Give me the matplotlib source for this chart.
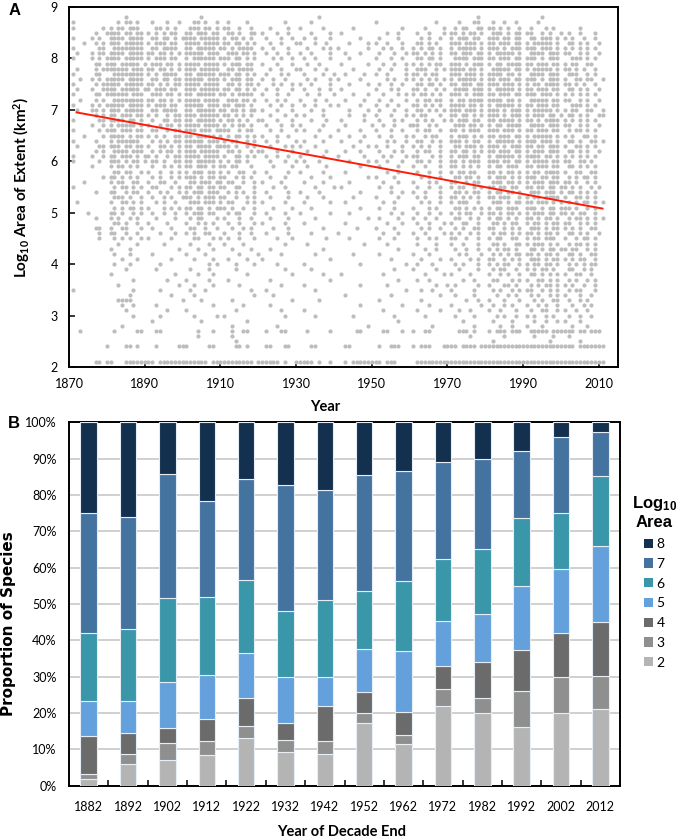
import matplotlib
matplotlib.use("Agg")
import matplotlib.pyplot as plt
import numpy as np
from matplotlib.patches import Patch

plt.rcParams['font.family'] = ['Lato', 'DejaVu Sans']
plt.rcParams['mathtext.default'] = 'regular'

# ---- panel A data -------------------------------------------------------
# one row per log10 area level, one character per year starting at 1871
# ('o' = a species point); spaces only split the decades for reading
first_year = 1871
scatter_rows = [
    (8.8, ".......... ....o..... .......... ....o..... .......... .......... .....o.... .......... .......... .......... .......o.. .......... ....o..... .......... ."),
    (8.7, "o......... ..o.oo.o.. .o...o..o. ..oo.o..o. .o....o... ......o... ...o...... .......... o......... ......o... ..o...oo.. .o..o..o.. ...o...... .......... ."),
    (8.6, "o.......o. o.oo.ooo.. ..oo.o.o.. .ooo.oo.o. oo..o..o.. ..o....o.. o.....o... ....o..... .......o.. ...o....o. .o.oo..oo. oo.o.o..o. .o...o.o.. ....o..... ."),
    (8.5, "......o..o ooo.oo.oo. o.o.o.oo.. oo.ooo.oo. .oo.o..oo. o...o..o.. ...o....o. .o........ ...o..o... .o..o...o. oo.o.oo.o. .ooo.o.oo. oo..o.o..o .o..o...o. ."),
    (8.4, "o....o.o.. oooo.oooo. .oo.oo.o.o ooo.ooooo. o.oo.o.o.. .o...o..o. .o..o...o. ......o... .o....o... ..o.o..o.. o.ooo.oo.. ooo.oo.oo. .oo.ooo.o. o.o..o..o. ."),
    (8.3, "...o..o.o. ooo.ooooo. o.ooo.oo.. oooo.oooo. oo.oo.o.o. ..o..o...o o...o..o.. ...o....o. o..o...o.. .oo.o.o... ooo.ooo.o. oo.ooo.oo. o.ooooo.o. .oo.o.o..o ."),
    (8.2, "o......oo. .oooooooo. .oo.oooo.. oo.ooooo.o o.o.oooo.. o..o...o.. ..o...o.o. o.......o. ..o.o..o.. o.o.oo.o.. o.ooooo.o. ooo.o.ooo. ooo.ooo.o. o.o.o.o.o. ."),
    (8.1, ".o...o.oo. oooo.oooo. oo.oo.o.o. ooooo.ooo. .ooo.oo.o. .o..o..o.. o..o....o. ..o...o... .o...o..o. oo.o.o.o.. oo.ooo.oo. o.ooooo.o. .oooo.ooo. oo..o.o..o ."),
    (8.0, "o....o.o.o ooo.ooooo. o.ooo.oo.. o.oooooo.o oo.oo.o.o. ...o.o..o. .o..o...o. ...o...... o...o..o.. .oo.oo.o.. .oooo.ooo. oo.ooo.oo. ooo.o.ooo. ..ooo.o.o. ."),
    (7.9, "......oo.o oo.ooooo.o .ooo.oo.o. oooo.oooo. o.ooo.oo.. o...o...o. ..o..o.... .o......o. ..o..o..o. o.o.o.oo.. ooo.o.ooo. o.oo.oooo. oo.ooo.oo. o.oo..oo.. ."),
    (7.8, ".o....o.oo ooooo.ooo. oo.oo.o.o. ooo.ooooo. .oo.oooo.. ..o..o...o o...o..o.. ....o..... .o..o...o. .ooo..o.o. oooo.oo.o. .ooooo.oo. o.ooooo.o. oo.o.o..o. ."),
    (7.7, "o.....oo.. .oooooooo. o.o.oooo.. oo.ooooo.o oo.oo.o.o. .o...o.o.. .o....o..o ..o....o.. o..o....o. oo.o.oo... ooo.ooo.o. oooo.oo.o. .oooo.ooo. .ooo..o.o. ."),
    (7.6, "..o..o.o.o oooo.oooo. .oo.oo.oo. ooooo.ooo. o.ooo.oo.. o..o..o... ..o.o...o. o.....o... ...o.o..o. o.o.o.o.o. o.ooooo.o. oo.ooo.oo. ooo.o.ooo. o..oo.oo.. o"),
    (7.5, "o.....o.oo ooo.ooooo. oo.o.o.oo. oooo.oooo. .oo.o.oo.o ...o.o..o. o..o....o. ...o....o. .o..o..o.. .oo.oo.o.. oo.ooo.oo. ooo.ooo.o. o.oo.oooo. oo.o.o..o. ."),
    (7.4, ".o...o..oo oo.ooooo.o o.ooo.oo.. ooo.ooooo. oo.oo.o.o. .o..o...o. .o...o..o. .o........ o...o.o... oo.o..o.o. .oooo.ooo. o.ooooo.o. oo.ooo.oo. .oo.o.o..o ."),
    (7.3, "o.....oo.o ooooo.ooo. .ooo.oo.o. oo.ooooo.o o.o.oooo.. o...o..o.. ..o..o...o ....o...o. ..o...o.o. o.oo.o.o.. ooo.o.ooo. oo.ooo.oo. ooo.ooo.o. o.o.o.o.o. ."),
    (7.2, "..o...o.o. .oooooooo. oo.oo.o.o. oooo.oooo. .ooo.oo.o. .o..o.o... o...o..o.. ..o....o.. .o..o...o. .o.oo.oo.. o.oo.oooo. oooo.oo.o. .ooooo.oo. oo..o.o..o ."),
    (7.1, "o....o.o.o oooo.oooo. o.ooo.oo.. ooooo.ooo. oo.ooo.o.. ..o..o..o. .o..o...o. o.....o... o..o..o... oo.o.o.o.. oooo.oo.o. o.ooooo.o. oo.ooo.oo. ..ooo.o.o. ."),
    (7.0, ".o...oo.o. ooo.ooooo. .oo.oooo.. oo.ooooo.o o.oo.o.oo. o...o...o. ...o..o... ...o....o. .o...o..o. .oo.o.o.o. ooo.ooo.o. ooo.o.ooo. o.ooooo.o. o.oo..oo.. o"),
    (6.9, "......o.o. oo.ooo.oo. o.o..o.oo. ooo.ooooo. oo.o.o.o.. ..o...o..o .o....o... ...o...o.. o...o...o. o.oo...o.. oo.oo.o.o. ooo.o.ooo. o.ooo.oo.o .oo.o.o..o o"),
    (6.8, "o......oo. oooo.oo.o. .o..oo.oo. oo.ooooo.o .oo.o.o..o o...o...o. ...o...o.. .o.....o.. .o...o.o.. .o.o.o..o. o.ooo.oo.. oo.oooo.o. oo.o.oooo. o.o.o.o.o. ."),
    (6.7, ".....o..o. o.ooooo.o. o..o.oo.o. oooo.oooo. o.o.oo.o.. .o...o..o. o.....o... ..o......o ..o..o...o oo..o.o... .ooo.oo.o. o.oo.oooo. .oooo.ooo. oo..o.o..o ."),
    (6.6, "o......o.o oo.ooo.oo. .oo..o.oo. ooo.ooo.oo oo..o.oo.. ..o..o...o .o...o.... o.....o... o...o..o.. .o.oo..o.. oo.o.ooo.. ooo.ooo.o. oo.ooo.oo. .o.oo.o.o. ."),
    (6.5, "...o....o. oooo.o.oo. o.o.o..oo. oo.ooooo.o .o.oo.o.o. o...o..o.. ....o...o. ...o...o.. .o..o...o. o..o.oo... o.ooo.o.o. oo.ooo.oo. o.ooooo.o. o.o..oo.o. ."),
    (6.4, "o.....o... o.oooooo.. .o.o.o.oo. ooooo.ooo. o.oo..o.o. .o..o....o .o....o... .o....o... ...o.o..o. .oo..o.o.. ooo.o.oo.. o.ooooo.o. ooo.ooo.o. .oo.o..oo. o"),
    (6.3, ".o.....oo. ooo.oo.oo. o..oo.o.o. oo.oooo.oo oo.o..o.o. ..o...o.o. o...o..... ....o...o. o..o...o.. o.o.o..o.. .oo.ooo.o. ooo.o.ooo. oo.oo.ooo. o..oo.o.o. ."),
    (6.2, "......o.o. .oooo.ooo. .o.o.oo.o. ooo.ooooo. .oo.o..o.o o...o...o. ..o....o.. ..o...o... .o...o.o.. .o.oo..o.. oo.oo.o.o. oo.ooo.oo. o.ooo.ooo. .oo.o.o..o ."),
    (6.1, "o....o..o. oo.ooo.o.o o.o..o.oo. oooo.oooo. o..oo.o.o. .o..o..o.. o.....o... o......o.. ..o.o...o. oo...o.o.. o.ooo.oo.. o.ooooo.o. oooo.oo.o. o.o.o.o.o. ."),
    (6.0, "o......o.. ooo.o.oo.o .oo.o..oo. oo.ooooo.o .o.oo.o... ..o...o..o .o...o.... ...o....o. o..o...o.. .oo.o..o.. oo.o.ooo.. ooo.oo.oo. o.oooo.oo. oo..oo.o.. ."),
    (5.9, ".....o.... o.oo.o.o.. .o..o.o.o. oo.ooo.o.o o.oo...o.. ...o....o. ..o....o.. ......o... .o....o... o..o...o.. oo.o.o.o.. o.oo.ooo.. oo.ooo.oo. .oo.o.o.o. ."),
    (5.8, ".......... .oo.oo..o. o..o..o.o. o.ooo.oo.o .o..oo..o. .o.....o.. o.....o... ..o....... ...o..o... .o..o..o.. o.oo.oo... oo.o.oo.o. o.oo.oooo. o..oo..oo. ."),
    (5.7, "........o. oo.o.o.o.. .o.o..o.o. ooo.o.oo.o o..o.o.o.. ..o...o... ...o....o. ........o. o....o.... ..o.o..o.. .oo.oo.o.. o.ooo.o.o. ooo.oo.oo. .o.o.oo.o. ."),
    (5.6, "...o...... o.oo..oo.. o..oo..o.. .oo.ooo.oo .oo..o..o. o....o.... .o....o... ...o...... ..o...o... o...o.o... oo..o.oo.. .ooo.oo.o. o.ooo.ooo. oo.o..o.o. ."),
    (5.5, "o......... .o.oo.o.o. .oo...o.o. oo.oo.oo.o o..oo...o. ...o..o... ....o....o .o........ .o..o..... .o..o..o.. o.oo..o.o. oo.oo.oo.. oo.oo.oo.o o.o.o..o.o ."),
    (5.4, "......o... oo..o.oo.. o..o.o..o. o.ooo.ooo. .o.o.o..o. .o.....o.. o....o.... ......o... ....o..o.. o..o...o.. .oo.o.oo.. o.oo.oo.o. .ooo.ooo.o .oo.o.o.o. ."),
    (5.3, ".......... .ooo.o..o. .o..o.o..o oo.o.ooo.o o..o..o.o. ..o....o.. ..o...o... ....o..... o.....o... .o.o...o.. oo.o.o.o.. oo.ooo..o. o.oo.oooo. o..oo.o.o. ."),
    (5.2, ".o........ o..oo.o.o. ..o.o..o.. .ooo.ooo.o .oo...o.o. o.....o... .o......o. ..o....... ..o..o.... ..o.o..o.. o.ooo..o.. .ooo.o.oo. oo.ooo.o.o .o.o.oo.o. o"),
    (5.1, ".......... .o.o.oo.o. o...o.o.o. oo.oo.o.oo o.o..o..o. ...o....o. ...o...... ......o... .o...o.... o...o.o... .oo.o.o.o. o.oo.ooo.. ooo.o.oo.o oo.o..o.o. ."),
    (5.0, "....o..... oo.o..o.o. .o..o..o.. o.ooo.oo.. .o.oo...o. .o....o... o.......o. ...o...... ....o..o.. .o..o..o.. o.o.oo..o. oo.o.oo.o. o.ooo.oo.o o.o.oo..o. ."),
    (4.9, "......o... o.o..o.o.. ..o....o.. .o.oo...o. o...o..o.. ..o....o.. ....o..... ........o. .o....o... o..o..o... .oo..o.o.. o.oo.o.o.. oo.o.oo.o. .o.oo.o.o. o"),
    (4.8, ".......... .oo.o..o.. o....o.... o..o.o.o.. .o..o...o. o.....o... .o........ ..o....... ...o...o.. .o..o...o. o..oo..o.. .oo.o.oo.. o.oo.o.oo. oo..o.o.o. ."),
    (4.7, "......oo.. o..oo...o. .o....o... .oo..o..o. ..o..o.o.. ...o...o.. ......o... .....o.... o....o.... ..o.o..o.. .o.o..oo.. oo..o.o.o. .ooo.o.oo. o.o.o..oo. ."),
    (4.6, ".......o.. oo..o..o.. ...o...o.. o.o..oo... o...o..o.. .o.....o.. ...o...... o......... ..o...o... o..o....o. o.o..o.o.. .o.oo.o.o. oo.o.oo.o. .oo.o.o..o ."),
    (4.5, ".......o.. .o.o.o..o. o.....o... ..oo...o.o .o..o...o. ....o...o. .......o.. ...o...... .o...o.... .o..o.o... oo..o..o.. o.oo..oo.. o.oo.ooo.. o..o.oo.o. ."),
    (4.4, ".......... ..o....o.. ....o..... .o....o... o....o.... ......o... ..o....... .......o.. ...o...... .o....o... o..o...o.. .oo.o..oo. o.ooo.o.o. .o.oo.o.o. ."),
    (4.3, ".......... o....o.... ........o. ...o...o.. ..o....o.. ..o....... ......o... .......... ......o... ...o..o... .o..o..o.. o.o.oo.o.. .oo.o.oo.o o.oo..o.o. ."),
    (4.2, ".......... .o...o.... .o........ o....o.... ....o....o .....o.... ....o..... ....o..... .o........ o...o..... ..o.o...o. .o.o.o.oo. oo.o.oo.o. .oo.o..oo. ."),
    (4.1, ".......... ...o...o.. ......o... ..o....o.. .o....o... o......... ........o. .......... ....o..... ..o....o.. o....o.o.. oo..o.o.o. .ooo.o.oo. o.o.oo..o. ."),
    (4.0, ".......... .o...o.... ...o...... ......o.o. ...o....o. ....o..... .o........ ......o... ........o. .o...o.... .o.o...o.. o.o.oo..o. o.oo.oo.o. .o.o.o.oo. ."),
    (3.9, ".......... ....o..... ..o....... .o....o... ...o...... ......o... ...o...... .......... .....o.... o.....o... ..o....o.. .o.oo..o.. o.o.oo.o.. .oo..o.o.. ."),
    (3.8, ".......... o......... .......o.. ...o...o.. ......o... ........o. ......o... .o........ ..o....... ...o....o. o....o.... o..o.o..o. .oo.o.o.o. o..oo..o.. ."),
    (3.7, ".......... ......o... .....o.... o.....o... .o........ ..o....... ........o. .......... ......o... .o..o..... ...o..o... .oo...o.o. o..oo.o.o. .o.o..o.o. ."),
    (3.6, ".......... ..o....... ........o. ..o....o.. ....o..... .....o.... .o........ ......o... ...o...... ......o..o .o.....o.. o...oo.o.. .o.o.oo.o. o.o..o..o. ."),
    (3.5, "o......... ......o... ...o...... .o...o.... .......o.. .o........ ....o..... .......... ........o. ..o..o.... o.....o... .o.o..o.o. oo..o.o.o. .o.oo...o. ."),
    (3.4, ".......... .....o.... ......o... ..o....... ........o. ...o...... .......... ..o....... ....o..... .......o.. .o....o... ..o..o.o.. .o.o..o.o. o...o..o.. ."),
    (3.3, ".......... ..oooo.... .........o ....o..... ..o....... ........o. .....o.... .......... .o........ ..o....... ....o..o.. o...o...o. ..o.o..oo. .o..o.o... ."),
    (3.2, ".......... ...o..o... ..o....... .......o.. .....o.... ..o....... .......... ......o... .......o.. ....o..... o.......o. .o..o.o... o..o.o..o. ..o..o.o.. ."),
    (3.1, ".......... ....o..... .....o.... o......... ...o...... .....o.... .o........ .......... ..o....... .o.....o.. ..o..o.... o..o...o.. .o..oo..o. o..o..o... ."),
    (3.0, ".......... ......o... ...o...... ..o.....o. o......... ......o... ....o..... ....o..... .....o.... ...o...... .o....o... ..o.o..o.. o.o..o.o.. .o..o..o.. ."),
    (2.9, ".......... .......... .o........ ....o..... ......o... .......... .......... .......... ......o... .......... ...o...... .o....o... ..o..o..o. o...o..... ."),
    (2.8, ".......... ...o...... .......... .......... ..o....... ....o..... .......... ........o. .......... .....o.... ......o... ...o..o... o...o..... ..o...o... ."),
    (2.7, "..o....... .o.....oo. ..oo...... ...o...o.. ..o..oo... .o...oo... ..o.....o. .....oo... ..oo...o.. o..oo..... ..ooo.o... o.ooo.ooo. .ooooo.ooo ooo.oo.ooo ."),
    (2.6, ".......... .......... .......... ...o...... ..o....... .......... .......... .......... .......... .......... .....o.... ....o..... ..o....o.. .o........ ."),
    (2.5, ".......... .......... .......... .......... ...o...... .......... .......... .......... .......... .......... .......... .o........ ......o... ....o..... ."),
    (2.4, ".........o ....oo.o.. ..o.....oo o.....oo.. ...oo.o... .oo...oo.. ...oo..... ..oo...... .o..ooo... o.ooo...oo oo.oooo.oo oooooooooo oooooooooo ooo.oooooo o"),
    (2.1, "......oo.o o...oooooo oo.ooooooo oooooo.ooo oooooooo.o ooooo.o..o oooo.o..o. ..o.oooooo oo.ooo.... .ooooooooo oooooooooo oooooooooo oooooooooo oooooooooo o"),
]

# fitted trend line end points
trend_years = [1872, 2011]
trend_values = [6.95, 5.08]

# ---- panel B data (percent of species per log10 area class) -------------
decade_ends = ['1882', '1892', '1902', '1912', '1922', '1932', '1942',
               '1952', '1962', '1972', '1982', '1992', '2002', '2012']
area_2 = [1.8, 6.1, 7.1, 8.4, 13.2, 9.3, 8.7, 17.3, 11.5, 21.8, 19.9, 16.2, 20.1, 21.2]
area_3 = [1.3, 2.5, 4.6, 4.0, 3.3, 3.3, 3.7, 2.6, 2.5, 4.7, 4.3, 9.9, 9.9, 9.1]
area_4 = [10.7, 5.8, 4.3, 5.9, 7.7, 4.7, 9.5, 6.0, 6.2, 6.5, 9.8, 11.2, 11.9, 14.7]
area_5 = [9.6, 9.0, 12.6, 12.1, 12.4, 12.5, 7.9, 11.8, 16.9, 12.4, 13.2, 17.7, 17.8, 21.0]
area_6 = [18.5, 19.6, 23.0, 21.4, 19.9, 18.3, 21.2, 16.0, 19.2, 16.9, 17.8, 18.7, 15.4, 19.2]
area_7 = [33.1, 31.0, 34.1, 26.5, 28.0, 34.6, 30.3, 31.8, 30.4, 26.8, 25.0, 18.5, 20.9, 12.2]
area_8 = [25.0, 26.0, 14.3, 21.7, 15.5, 17.3, 18.7, 14.5, 13.3, 10.9, 10.0, 7.8, 4.0, 2.6]

class_labels = ['2', '3', '4', '5', '6', '7', '8']
class_colors = ['#b4b4b4', '#8f8f8f', '#6b6b6b', '#64a0dc', '#3a96a9', '#4573a0', '#13304e']

# ---- build scatter points ---------------------------------------------
pt_x, pt_y = [], []
for level, row in scatter_rows:
    cells = row.replace(' ', '')
    for i, ch in enumerate(cells):
        if ch == 'o':
            pt_x.append(first_year + i)
            pt_y.append(level)

fig = plt.figure(figsize=(6.8, 8.4), dpi=100)

# ---- panel A ----------------------------------------------------------------
ax1 = fig.add_axes([0.1015, 0.5631, 0.8069, 0.4286])
ax1.scatter(pt_x, pt_y, s=9, color='#bdbdbd', linewidths=0, zorder=2)
ax1.plot(trend_years, trend_values, color='#ff1a0a', lw=1.4, zorder=3)
ax1.set_xlim(1870, 2015)
ax1.set_ylim(2, 9)
ax1.set_xticks(range(1870, 2011, 20))
ax1.set_yticks(range(2, 10))
ax1.tick_params(direction='in', length=4, width=1.1, labelsize=9, pad=8)
for s in ax1.spines.values():
    s.set_linewidth(1.4)
ax1.set_ylabel('Log$_{10}$ Area of Extent (km$^2$)', fontsize=11,
               fontweight='bold', labelpad=13)
fig.text(0.478, 0.5155, 'Year', fontsize=10.5, fontweight='bold',
         ha='center', va='center')

# ---- panel B ----------------------------------------------------------------
ax2 = fig.add_axes([0.1015, 0.0646, 0.8103, 0.4327])
x = np.arange(len(decade_ends))
classes = [area_2, area_3, area_4, area_5, area_6, area_7, area_8]
bottom = np.zeros(len(decade_ends))
for vals, col in zip(classes, class_colors):
    ax2.bar(x, vals, 0.42, bottom=bottom, color=col,
            edgecolor='#e6edf5', linewidth=0.8, zorder=3)
    bottom += np.array(vals)

ax2.set_xlim(-0.5, 13.5)
ax2.set_ylim(0, 100)
ax2.set_yticks(range(0, 101, 10))
ax2.set_yticklabels([f'{v}%' for v in range(0, 101, 10)])
ax2.yaxis.grid(True, color='#c4c4c4', lw=1.1, zorder=0)
ax2.set_axisbelow(True)
ax2.set_xticks(x)
ax2.set_xticklabels(decade_ends)
ax2.set_xticks(np.arange(0.5, 13.5, 1), minor=True)
ax2.tick_params(axis='x', which='major', length=0, labelsize=9, pad=11)
ax2.tick_params(axis='x', which='minor', direction='in', length=4, width=1.1)
ax2.tick_params(axis='y', length=0, labelsize=9, pad=9)
for s in ax2.spines.values():
    s.set_linewidth(1.4)
fig.text(0.013, 0.257, 'Proportion of Species', rotation=90, fontsize=11,
         fontweight='bold', family='DejaVu Sans', ha='center', va='center')
fig.text(0.503, 0.0095, 'Year of Decade End', fontsize=10.5,
         fontweight='bold', ha='center', va='center')

handles = [Patch(facecolor=c, edgecolor='none') for c in class_colors[::-1]]
leg = fig.legend(handles, class_labels[::-1], loc='upper center',
                 bbox_to_anchor=(0.962, 0.422), frameon=False, fontsize=10,
                 handlelength=0.65, handleheight=0.65, handletextpad=0.3,
                 labelspacing=0.56, borderaxespad=0.2,
                 title='Log$_{10}$\nArea',
                 title_fontproperties={'weight': 'bold', 'size': 12,
                                       'family': 'Liberation Sans'})
leg.get_title().set_multialignment('center')

# panel letters
fig.text(0.012, 0.987, 'A', fontsize=12, fontweight='bold',
         family='Liberation Sans', ha='left', va='center')
fig.text(0.012, 0.496, 'B', fontsize=12, fontweight='bold',
         family='Liberation Sans', ha='left', va='center')

fig.savefig('out.png', dpi=100)
